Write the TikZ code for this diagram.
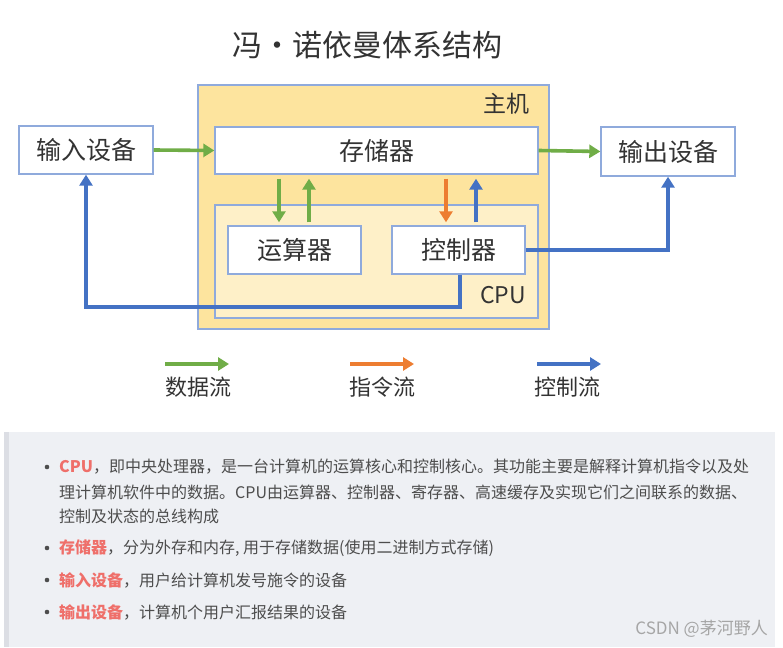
\documentclass[tikz,border=0pt]{standalone}
\usepackage{fontspec}
\setmainfont{Noto Sans CJK SC}
\usetikzlibrary{arrows.meta}
\definecolor{grn}{HTML}{70AD47}
\definecolor{org}{HTML}{ED7D31}
\definecolor{blu}{HTML}{4472C4}
\definecolor{bord}{HTML}{8FAADC}
\definecolor{hostfill}{HTML}{FDE49E}
\definecolor{cpufill}{HTML}{FEF0C8}
\definecolor{txt}{HTML}{333333}
\definecolor{panel}{HTML}{EEF0F4}
\definecolor{strip}{HTML}{DCDEE4}
\definecolor{hl}{HTML}{EF6F6A}
\definecolor{body}{HTML}{4D4D4D}
\begin{document}
\begin{tikzpicture}[x=1pt,y=-1pt,
  box/.style={draw=bord,line width=1.4pt,fill=white,inner sep=0pt,text=txt,font=\fontsize{25}{27}\selectfont},
  flow/.style={line width=3.6pt,-{Triangle[length=11pt,width=13pt]}},
  line/.style={anchor=west,inner sep=0pt,text=body,font=\fontsize{16}{18}\selectfont}]
\useasboundingbox (0,0) rectangle (783,647);
\fill[white] (0,0) rectangle (783,647);
% title
\node[text=txt,font=\fontsize{30}{32}\selectfont] (title) at (367,45) {冯·诺依曼体系结构};
% host
\node[draw=bord,line width=1.4pt,fill=hostfill,minimum width=351pt,minimum height=244pt,inner sep=0pt] (host) at (373.5,207) {};
\node[text=txt,font=\fontsize{23}{25}\selectfont] (hostlbl) at (506,104) {主机};
\node[draw=bord,line width=1.4pt,fill=cpufill,minimum width=323pt,minimum height=113pt,inner sep=0pt] (cpu) at (376.5,261.5) {};
\node[text=txt,font=\fontsize{23}{25}\selectfont] (cpulbl) at (503,295) {CPU};
\node[box,minimum width=323pt,minimum height=47pt] (mem) at (376.5,150.5) {存储器};
\node[box,minimum width=134pt,minimum height=48pt] (in) at (86,150) {输入设备};
\node[box,minimum width=134pt,minimum height=49pt] (out) at (668,151.5) {输出设备};
\node[box,minimum width=133pt,minimum height=48pt] (alu) at (294.5,250) {运算器};
\node[box,minimum width=133pt,minimum height=48pt] (ctl) at (458.5,250) {控制器};
% data flows
\draw[flow,grn] (in.east) -- (mem.west);
\draw[flow,grn] (mem.east) -- (out.west);
\draw[flow,grn,shorten <=4pt,shorten >=3pt] (mem.south -| 279,0) -- (alu.north -| 279,0);
\draw[flow,grn,shorten <=3pt,shorten >=4pt] (alu.north -| 309,0) -- (mem.south -| 309,0);
\draw[flow,org,shorten <=4pt,shorten >=3pt] (mem.south -| 446,0) -- (ctl.north -| 446,0);
\draw[flow,blu,shorten <=3pt,shorten >=4pt] (ctl.north -| 476,0) -- (mem.south -| 476,0);
\draw[flow,blu] (ctl.east) -| (out.south);
\draw[flow,blu] (ctl.south -| 460,0) -- (460,307) -| (in.south);
% legend
\coordinate (lg1) at (165,364); \coordinate (lg1e) at (229,364);
\coordinate (lg2) at (350,364); \coordinate (lg2e) at (414,364);
\coordinate (lg3) at (537,364); \coordinate (lg3e) at (601,364);
\draw[flow,grn] (lg1) -- (lg1e);
\draw[flow,org] (lg2) -- (lg2e);
\draw[flow,blu] (lg3) -- (lg3e);
\node[text=txt,font=\fontsize{22}{24}\selectfont] (lt1) at (198,387) {数据流};
\node[text=txt,font=\fontsize{22}{24}\selectfont] (lt2) at (382,387) {指令流};
\node[text=txt,font=\fontsize{22}{24}\selectfont] (lt3) at (567,387) {控制流};
% lower panel
\fill[panel] (6,432) rectangle (775,647);
\fill[strip] (4,432) rectangle (9,647);
\foreach \y/\n in {467/b1,548/b2,580/b3,612/b4} \fill[body] (47,\y) circle (2.3pt);
\node[line] (l1) at (59,467) {\textcolor{hl}{\textbf{CPU}}，即中央处理器，是一台计算机的运算核心和控制核心。其功能主要是解释计算机指令以及处};
\node[line] (l2) at (59,492) {理计算机软件中的数据。CPU由运算器、控制器、寄存器、高速缓存及实现它们之间联系的数据、};
\node[line] (l3) at (59,516) {控制及状态的总线构成};
\node[line] (l4) at (59,548) {\textcolor{hl}{\textbf{存储器}}，分为外存和内存, 用于存储数据(使用二进制方式存储)};
\node[line] (l5) at (59,580) {\textcolor{hl}{\textbf{输入设备}}，用户给计算机发号施令的设备};
\node[line] (l6) at (59,612) {\textcolor{hl}{\textbf{输出设备}}，计算机个用户汇报结果的设备};
\node[anchor=east,inner sep=0pt,text=black!35,font=\fontsize{17}{19}\selectfont] (wm) at (768,629) {CSDN @茅河野人};
\end{tikzpicture}
\end{document}
